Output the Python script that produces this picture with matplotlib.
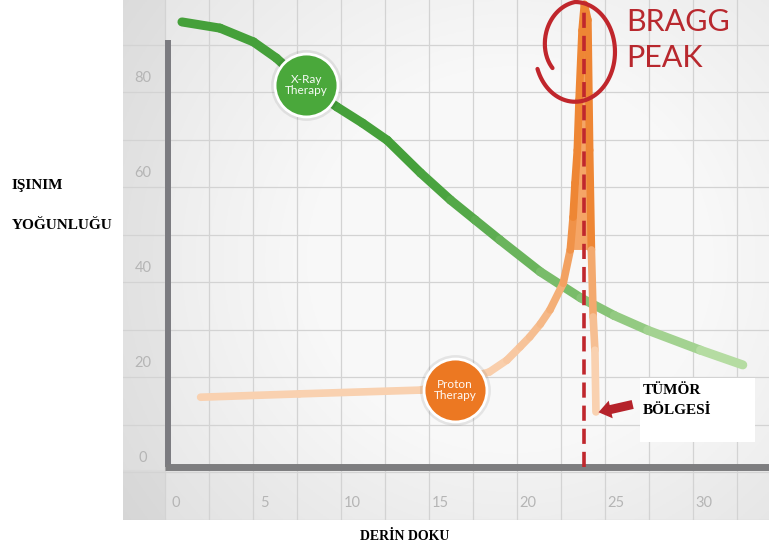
import matplotlib
matplotlib.use("Agg")
import matplotlib.pyplot as plt
import numpy as np
from matplotlib.collections import LineCollection
from matplotlib.colors import to_rgb

# -----------------------------
# Data
# -----------------------------
x_ticks = [0, 5, 10, 15, 20, 25, 30]
y_ticks = [0, 20, 40, 60, 80]

# X-Ray therapy dose curve
xray_x = [0.34, 2.5, 4.4, 5.7, 7.4, 9.15, 10.6, 12.0, 13.9, 15.6, 17.0, 18.4, 20.7, 23.0, 24.9,
          26.8, 29.8, 32.2]
xray_y = [91.8, 90.5, 87.6, 84.2, 78.5, 73.9, 70.5, 66.9, 60.0, 54.3, 50.1, 45.9, 39.2, 33.7, 30.0,
          26.9, 22.7, 19.6]

# Proton therapy dose curve (Bragg peak)
proton_x = [1.4, 7.0, 13.9, 17.8, 18.8, 19.55, 20.1, 20.7, 21.25, 22.0, 22.4, 22.56, 22.67, 22.8,
            22.9, 23.07, 23.2, 23.4, 23.5, 23.6, 23.7, 23.8, 23.86]
proton_y = [12.8, 13.5, 14.3, 18.1, 20.6, 23.4, 25.5, 28.2, 31.2, 36.8, 43.8, 50.7, 57.9, 64.8,
            75.4, 90.0, 95.5, 92.2, 64.8, 43.8, 29.7, 22.7, 9.7]

tumor_x = 23.2          # tumour region / Bragg peak depth
xray_badge = (7.4, 78.5)
proton_badge = (15.85, 14.3)

# -----------------------------
# Figure / axes
# -----------------------------
fig = plt.figure(figsize=(7.69, 5.51), dpi=100)
fig.patch.set_facecolor("white")
ax = fig.add_axes([123 / 769, 31 / 551, 646 / 769, 520 / 551])
xlim = (-3.01, 33.69)
ylim = (-13.05, 96.42)

# soft grey vignette behind the grid
ny, nx = 260, 320
gx, gy = np.meshgrid(np.linspace(0, 1, nx), np.linspace(0, 1, ny))
d = np.sqrt(((gx - 0.6) / 0.55) ** 2 + ((gy - 0.5) / 0.65) ** 2)
bg = 0.975 - 0.10 * np.clip(d - 0.55, 0, 1)
bg = np.where(gx < 0.065, bg - 0.035, bg)
bg = np.where(gy > 0.905, bg - 0.02, bg)
ax.imshow(np.dstack([bg, bg, bg]), extent=[0, 1, 0, 1], transform=ax.transAxes,
          aspect="auto", zorder=0, origin="upper")
ax.set_xlim(*xlim)
ax.set_ylim(*ylim)
ax.axis("off")

# grid
for gxv in np.arange(-0.625, 34, 2.5):
    ax.axvline(gxv, color="#d3d3d3", lw=0.9, zorder=1)
for gyv in np.arange(87, -14, -10):
    ax.axhline(gyv, color="#d3d3d3", lw=0.9, zorder=1)

# tick labels
tick_kw = dict(color="#b5b5b5", fontsize=10.5, family="Lato", ha="center", va="center")
for v in x_ticks:
    ax.text(v, 0.0327, str(v), transform=ax.get_xaxis_transform(), **tick_kw)
for v in y_ticks:
    ax.text(0.031, v, str(v), transform=ax.get_yaxis_transform(), **tick_kw)

# axis lines
ax.plot([-0.45, -0.45], [-1.9, 88], color="#7b7b80", lw=4.3, solid_capstyle="butt", zorder=3)
ax.plot([-0.6, xlim[1]], [-1.9, -1.9], color="#7d7d7f", lw=5, solid_capstyle="butt", zorder=3)


def mix(c1, c2, t):
    a, b = np.array(to_rgb(c1)), np.array(to_rgb(c2))
    return a + (b - a) * t


def grad_line(xs, ys, colors, lw, z):
    pts = np.column_stack([xs, ys]).reshape(-1, 1, 2)
    segs = np.concatenate([pts[:-1], pts[1:]], axis=1)
    lc = LineCollection(segs, colors=colors, linewidths=lw, capstyle="round",
                        joinstyle="round", zorder=z)
    ax.add_collection(lc)


# X-Ray curve, dark green fading to pale green
xm = (np.array(xray_x[:-1]) + np.array(xray_x[1:])) / 2
gcols = [mix("#45a03a", "#b5dca2", np.clip((v - 14) / 17, 0, 1)) for v in xm]
grad_line(xray_x, xray_y, gcols, 6.5, 4)

# Proton curve, pale peach rising into saturated orange at the peak
px_arr, py_arr = np.array(proton_x), np.array(proton_y)
peak = int(np.argmax(py_arr))
up = py_arr >= 40
poly_x = np.concatenate([px_arr[:peak + 1][up[:peak + 1]], px_arr[peak:][up[peak:]]])
poly_y = np.concatenate([py_arr[:peak + 1][up[:peak + 1]], py_arr[peak:][up[peak:]]])
ax.fill(poly_x, poly_y, color="#f5a566", zorder=4, lw=0)
ym = (py_arr[:-1] + py_arr[1:]) / 2
pcols = [mix("#f9d1b0", "#ee8634", np.clip((v - 18) / 35, 0, 1)) for v in ym]
grad_line(proton_x, proton_y, pcols, 5.5, 5)

# tumour dashed marker
ax.plot([tumor_x, tumor_x], [-1.9, 95.5], color="#c0272d", lw=2.6,
        dashes=(4.2, 2.2), zorder=6)

# badges
for (bx, by), col, label in [(xray_badge, "#4aa83b", "X-Ray\nTherapy"),
                             (proton_badge, "#ec7822", "Proton\nTherapy")]:
    ax.scatter([bx], [by], s=2600, color="#000000", alpha=0.08, zorder=7, lw=0)
    ax.scatter([bx], [by], s=2050, color=col, edgecolor="white", linewidth=2, zorder=8)
    ax.text(bx, by, label, color="white", fontsize=8.5, family="Lato", ha="center",
            va="center", linespacing=1.05, zorder=9, alpha=0.95)

# Bragg peak loop
t = np.radians(np.linspace(200, 570, 200))
shrink = 1 - 0.35 * np.clip((np.degrees(t) - 450) / 120, 0, 1)
cx, cy, rx, ry = 22.67, 85.5, 2.27, 10.5
ax.plot(cx + rx * shrink * np.cos(t), cy + ry * shrink * np.sin(t),
        color="#c0262c", lw=3.0, solid_capstyle="round", zorder=10, clip_on=False)
ax.text(25.6, 91.8, "BRAGG", color="#b8282e", fontsize=22, family="Lato",
        ha="left", va="center", zorder=10)
ax.text(25.6, 84.2, "PEAK", color="#b8282e", fontsize=22, family="Lato",
        ha="left", va="center", zorder=10)

# tumour label box + arrow
ax.add_patch(plt.Rectangle((26.36, 3.37), 6.55, 13.4, facecolor="white",
                           edgecolor="none", zorder=11))
ax.text(26.5, 14.3, "TÜMÖR", fontsize=11, family="Liberation Serif", fontweight="bold",
        ha="left", va="center", zorder=12)
ax.text(26.5, 10.0, "BÖLGESİ", fontsize=11, family="Liberation Serif", fontweight="bold",
        ha="left", va="center", zorder=12)
ax.annotate("", xy=(23.85, 9.5), xytext=(26.1, 11.4), zorder=12,
            arrowprops=dict(arrowstyle="simple,head_length=0.9,head_width=1.3,tail_width=0.65",
                            color="#b5222a", lw=0))

# outer axis titles
serif = dict(family="Liberation Serif", fontweight="bold", fontsize=11, color="black")
fig.text(12 / 769, 1 - 186 / 551, "IŞINIM", ha="left", va="center", **serif)
fig.text(12 / 769, 1 - 226 / 551, "YOĞUNLUĞU", ha="left", va="center", **serif)
fig.text(405 / 769, 1 - 536 / 551, "DERİN DOKU", ha="center", va="center",
         family="Liberation Serif", fontweight="bold", fontsize=10)

fig.savefig("out.png", dpi=100)
